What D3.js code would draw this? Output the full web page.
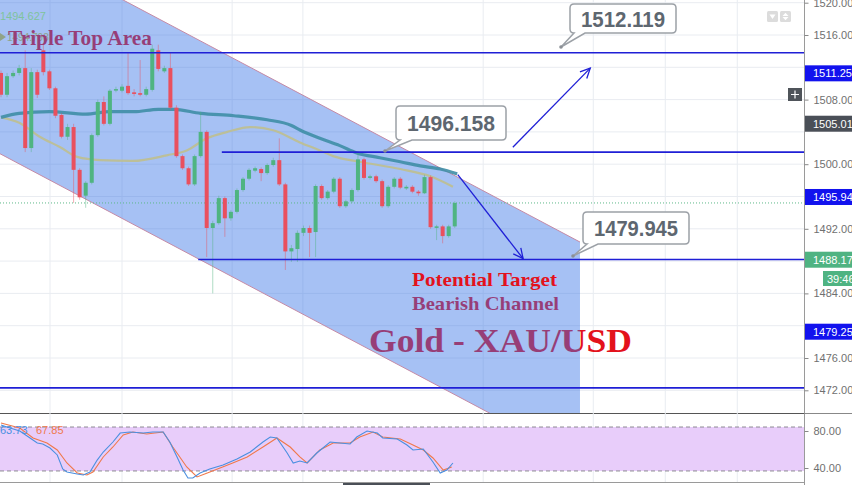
<!DOCTYPE html>
<html><head><meta charset="utf-8">
<script src="https://cdn.jsdelivr.net/npm/d3@7"></script>
<style>body{margin:0;background:#fff;overflow:hidden}svg{display:block}</style>
</head><body><svg id="c" width="852" height="485"></svg>
<script>
// ---------- DATA ----------
const opens  = [1511.3,1508.6,1510.9,1511.3,1511.9,1502.0,1511.4,1514.1,1511.5,1509.4,1506.1,1503.4,1504.6,1499.3,1496.1,1497.7,1503.6,1507.7,1505.0,1509.2,1509.1,1509.7,1508.9,1508.8,1508.6,1509.2,1514.1,1511.5,1511.9,1507.0,1501.0,1499.5,1497.5,1501.0,1504.0,1492.1,1492.7,1495.8,1493.3,1494.1,1496.8,1498.2,1499.2,1499.4,1498.9,1499.9,1500.5,1497.5,1489.2,1489.5,1491.5,1492.1,1491.6,1497.3,1495.8,1496.6,1498.2,1494.8,1495.4,1496.8,1500.6,1498.3,1498.5,1497.9,1494.8,1497.2,1498.2,1497.0,1497.2,1496.6,1496.4,1498.4,1492.2,1492.3,1491.1,1492.3];
const highs  = [1511.6,1511.3,1511.6,1512.3,1514.1,1511.9,1511.7,1514.8,1511.7,1509.6,1506.3,1505.0,1505.0,1499.5,1497.9,1503.8,1508.0,1508.4,1509.3,1509.6,1509.9,1513.8,1509.3,1512.9,1509.6,1514.8,1514.8,1512.2,1513.8,1507.3,1501.2,1499.7,1501.2,1506.5,1504.2,1493.0,1496.1,1496.0,1494.3,1497.0,1498.4,1499.5,1499.7,1499.6,1500.1,1500.8,1503.2,1497.7,1490.0,1491.8,1492.4,1492.4,1497.5,1497.5,1496.8,1498.4,1498.4,1495.6,1497.0,1501.5,1500.8,1498.7,1498.7,1498.1,1497.4,1498.4,1498.4,1497.4,1497.4,1496.8,1498.7,1498.6,1492.5,1492.5,1492.5,1495.4];
const lows   = [1508.3,1508.3,1510.7,1511.0,1501.5,1501.5,1508.2,1511.0,1509.2,1505.7,1503.2,1503.0,1495.2,1495.6,1494.6,1497.5,1503.4,1504.8,1504.8,1508.9,1508.9,1508.6,1508.4,1508.4,1508.4,1509.0,1511.5,1511.3,1506.7,1500.8,1499.3,1497.3,1497.3,1500.8,1488.5,1484.0,1492.5,1491.0,1493.0,1493.9,1496.6,1498.0,1499.0,1497.9,1498.7,1499.7,1497.3,1486.9,1487.9,1487.9,1491.1,1488.5,1488.5,1495.6,1495.6,1496.4,1494.6,1494.6,1495.2,1496.6,1498.1,1498.1,1497.7,1494.6,1494.6,1497.0,1496.9,1496.8,1496.4,1496.1,1496.3,1492.0,1490.6,1490.2,1490.9,1492.1];
const closes = [1508.6,1510.9,1511.3,1511.9,1502.0,1511.4,1508.6,1511.4,1509.4,1506.0,1503.4,1504.6,1499.3,1495.9,1497.7,1503.6,1507.7,1505.0,1509.1,1509.3,1509.6,1508.8,1508.7,1508.6,1509.3,1514.3,1511.8,1511.9,1507.0,1501.0,1499.5,1497.5,1501.0,1504.0,1492.1,1492.7,1495.8,1493.3,1494.1,1496.8,1498.2,1499.3,1499.5,1498.9,1499.9,1500.5,1497.5,1489.2,1489.6,1491.5,1492.1,1491.5,1497.3,1495.8,1496.6,1498.2,1494.8,1495.4,1496.8,1500.6,1498.3,1498.5,1497.9,1494.8,1497.2,1498.2,1497.1,1497.2,1496.6,1496.4,1498.4,1492.2,1492.3,1491.1,1492.3,1495.2];

const maSlowIdx = [0,3,8,14,18,22,26,28.5,33,38.5,44,48,49.5,52.7,56,58.8,62.6,66,69.3,72.6,75.4];
const maSlowVal = [1505.8,1506.3,1506.5,1506.2,1506.5,1506.5,1506.8,1506.8,1506.3,1506.0,1505.5,1504.8,1504.2,1503.2,1502.3,1501.4,1500.8,1500.3,1499.8,1499.4,1498.8];
const maFastIdx = [0,3.1,6.4,9.8,12.6,16.4,21.8,27.4,30.7,34,37.4,41.2,45,49.4,52.7,54.9,59.3,66,71,74.7];
const maFastVal = [1505.8,1505.1,1503.4,1502.1,1500.9,1500.5,1500.4,1501.1,1501.7,1503.2,1504.0,1504.6,1504.2,1502.7,1501.7,1501.0,1500.3,1499.4,1498.5,1497.2];

const stochKIdx = [0,1.5,3.1,4.8,6,6.9,8.1,9.3,10.2,10.9,12.6,13.6,14.7,15.9,16.9,18.5,19.7,21.3,23.5,25.1,26.8,27.9,29.1,30.1,30.9,31.7,32.9,34.5,36.7,39,41.2,43.3,44.5,45.6,47.3,48.3,49.4,50.6,52.2,54.4,56,57.7,58.8,60.5,62.2,63.1,65.5,67.1,68.1,69.8,71.4,72.6,73.7,74.7];
const stochKVal = [86.5,83.2,80,72.4,67.0,65.9,61.6,54.1,38.9,35.7,33.5,32.4,35.7,48.6,57.3,68.1,77.8,78.9,77.8,78.9,78.9,68.1,51.9,37.8,29.2,29.2,34.6,38.9,43.2,49.7,57.3,68.1,73.5,72.4,56.2,45.4,47.5,45.4,56.2,68.1,67.0,65.9,73.5,80,77.8,72.4,71.4,64.9,59.5,60.5,46.5,34.6,37.8,45.4];
const stochDIdx = [0,3.1,5.3,7.6,9.3,10.9,12.6,14.2,15.2,16.9,18.5,20.2,21.8,24.1,26.8,28.4,30.7,32.4,34.1,36.2,38.3,40.7,43.3,45.6,47.8,49.4,50.6,52.7,54.9,57.7,59.3,61.5,63.1,66,68.1,69.8,71.4,73.1,74.5];
const stochDVal = [88.6,83.2,72.4,67.0,59.5,45.4,34.6,32.4,35.7,51.9,62.7,75.7,78.9,76.8,78.9,62.7,41.1,30.3,34.6,40.0,45.4,51.9,62.7,72.4,62.7,52.0,45.4,59.5,67.0,67.0,73.5,78.9,73.5,71.4,64.9,59.5,50.8,37.8,41.1];

const priceTicks = [1520,1516,1512,1508,1504,1500,1496,1492,1488,1484,1480,1476,1472];
const stochTicks = [80,40];
const stochBand = [84.3,36.8];
const levelVals = [1513.8,1501.5,1488.2,1472.3];
const levelStart = [-5,36.5,32.6,-5];
const axisLabelVals = [1511.253,1505.012,1495.940,1488.172,1479.256];
const axisLabelText = ["1511.253","1505.012","1495.940","1488.172","1479.256"];
const timeGridIdx = [8.1,20,38.2,49.9,79.7,97.9,109.8,121.7];
const calloutText = ["1512.119","1496.158","1479.945"];
const lastPrice = 1495.2;

// ---------- SCALES ----------
const svg = d3.select("#c");
const W = 852, H = 485, paneR = 804, mainB = 413;
const x = d3.scaleLinear().domain([0,100]).range([1,606]);
const y = d3.scaleLinear().domain([1472,1520]).range([390.3,2.7]);
const ys = d3.scaleLinear().domain([40,80]).range([468,431]);
const sans = "'Liberation Sans',Arial,sans-serif";
const serif = "'Liberation Serif','Times New Roman',serif";

svg.append("rect").attr("width",W).attr("height",H).attr("fill","#fff");
const defs = svg.append("defs");
defs.append("clipPath").attr("id","mainClip").append("rect").attr("x",0).attr("y",0).attr("width",paneR).attr("height",mainB);
defs.append("clipPath").attr("id","stClip").append("rect").attr("x",0).attr("y",mainB).attr("width",paneR).attr("height",70);

const main = svg.append("g").attr("clip-path","url(#mainClip)");

// grid
main.selectAll(".hg").data(priceTicks).join("line")
  .attr("x1",0).attr("x2",paneR).attr("y1",d=>y(d)).attr("y2",d=>y(d))
  .attr("stroke","#e9ecf1").attr("stroke-width",1);
main.selectAll(".vg").data(timeGridIdx).join("line")
  .attr("x1",d=>x(d)).attr("x2",d=>x(d)).attr("y1",0).attr("y2",mainB)
  .attr("stroke","#e9ecf1").attr("stroke-width",1);

// small legend value partially hidden behind the title
main.append("path").attr("d","M0,33 L6,37 L0,41 Z").attr("fill","#d8c93a");
main.append("text").attr("x",7).attr("y",41).text("1494.798").attr("font-family",sans)
  .attr("font-size",10).attr("fill","#d8c93a");

// texts beneath channel (red, tinted by channel)
main.append("text").attr("x",8).attr("y",45).text("Triple Top Area")
  .attr("font-family",serif).attr("font-weight","bold").attr("font-size",22)
  .attr("textLength",144).attr("lengthAdjust","spacingAndGlyphs").attr("fill","#e3121c");
main.append("text").attr("x",412).attr("y",310).text("Bearish Channel")
  .attr("font-family",serif).attr("font-weight","bold").attr("font-size",19)
  .attr("textLength",147).attr("lengthAdjust","spacingAndGlyphs").attr("fill","#e3121c");
main.append("text").attr("x",369).attr("y",352).text("Gold - XAU/USD")
  .attr("font-family",serif).attr("font-weight","bold").attr("font-size",34)
  .attr("textLength",263).attr("lengthAdjust","spacingAndGlyphs").attr("fill","#e3121c");

// channel
const chSlope = (1490.36-1520.33)/(95.7-20.2);
const upAt = i => 1520.33 + chSlope*(i-20.2);
const loAt = i => 1501.3 + chSlope*(i+0.17);
const iL = -12, iR = 95.7;
const chPts = [[iL,upAt(iL)],[iR,upAt(iR)],[iR,loAt(iR)],[iL,loAt(iL)]];
main.append("path")
  .attr("d", d3.line().x(d=>x(d[0])).y(d=>y(d[1]))(chPts)+"Z")
  .attr("fill","rgba(58,118,230,0.45)");
main.append("line").attr("x1",x(iL)).attr("y1",y(upAt(iL))).attr("x2",x(iR)).attr("y2",y(upAt(iR)))
  .attr("stroke","#c48aa6").attr("stroke-width",1);
main.append("line").attr("x1",x(iL)).attr("y1",y(loAt(iL))).attr("x2",x(iR)).attr("y2",y(loAt(iR)))
  .attr("stroke","#c48aa6").attr("stroke-width",1);

// current price dotted line
main.append("line").attr("x1",0).attr("x2",paneR).attr("y1",y(lastPrice)).attr("y2",y(lastPrice))
  .attr("stroke","#5cb889").attr("stroke-width",1).attr("stroke-dasharray","1,2");

// moving averages
const lineGen = d3.line().x(d=>x(d[0])).y(d=>y(d[1])).curve(d3.curveMonotoneX);
main.append("path").attr("d",lineGen(maFastIdx.map((d,i)=>[d,maFastVal[i]])))
  .attr("fill","none").attr("stroke","#bdbf93").attr("stroke-width",2.2).attr("opacity",0.95);
main.append("path").attr("d",lineGen(maSlowIdx.map((d,i)=>[d,maSlowVal[i]])))
  .attr("fill","none").attr("stroke","#3f8ea6").attr("stroke-width",3.2).attr("opacity",0.9);

// candles
const RED="#e9505e", GREEN="#4fb481";
const candles = opens.map((o,i)=>({i,o,h:highs[i],l:lows[i],c:closes[i]}));
const cg = main.append("g");
cg.selectAll(".wick").data(candles).join("line")
  .attr("x1",d=>x(d.i)).attr("x2",d=>x(d.i)).attr("y1",d=>y(d.h)).attr("y2",d=>y(d.l))
  .attr("stroke",d=>d.c>=d.o?GREEN:RED).attr("stroke-width",1).attr("opacity",0.45);
cg.selectAll(".body").data(candles).join("rect")
  .attr("x",d=>x(d.i)-2).attr("width",4)
  .attr("y",d=>y(Math.max(d.o,d.c)))
  .attr("height",d=>Math.max(1.5,Math.abs(y(d.o)-y(d.c))))
  .attr("fill",d=>d.c>=d.o?GREEN:RED);

// levels
const LEVEL="#1f1fd6";
main.selectAll(".lvl").data(levelVals).join("line")
  .attr("x1",(d,i)=>x(levelStart[i])).attr("x2",paneR)
  .attr("y1",d=>y(d)).attr("y2",d=>y(d))
  .attr("stroke",LEVEL).attr("stroke-width",1.6);

// arrows
function arrow(i1,p1,i2,p2){
  const x1=x(i1),y1=y(p1),x2=x(i2),y2=y(p2);
  const a=Math.atan2(y2-y1,x2-x1), L=11, s=0.45;
  main.append("line").attr("x1",x1).attr("y1",y1).attr("x2",x2).attr("y2",y2)
    .attr("stroke",LEVEL).attr("stroke-width",1.3);
  main.append("path").attr("d",`M${x2-L*Math.cos(a-s)},${y2-L*Math.sin(a-s)} L${x2},${y2} L${x2-L*Math.cos(a+s)},${y2-L*Math.sin(a+s)}`)
    .attr("fill","none").attr("stroke",LEVEL).attr("stroke-width",1.3);
}
arrow(84.6,1502.1,97.4,1511.9);
arrow(75.5,1498.7,86.3,1488.3);

// Potential Target text (above channel)
main.append("text").attr("x",412).attr("y",286).text("Potential Target")
  .attr("font-family",serif).attr("font-weight","bold").attr("font-size",19)
  .attr("textLength",145).attr("lengthAdjust","spacingAndGlyphs").attr("fill","#e3121c");

// callouts
function callout(txt,x0,y0,w,h,t1,t2,px,py){
  const r=4;
  const d=`M${x0+r},${y0} H${x0+w-r} Q${x0+w},${y0} ${x0+w},${y0+r} V${y0+h-r} Q${x0+w},${y0+h} ${x0+w-r},${y0+h} H${t2} L${px},${py} L${t1},${y0+h} H${x0+r} Q${x0},${y0+h} ${x0},${y0+h-r} V${y0+r} Q${x0},${y0} ${x0+r},${y0} Z`;
  main.append("path").attr("d",d).attr("fill","#fff").attr("stroke","#9ca1a7").attr("stroke-width",1.5);
  main.append("circle").attr("cx",px).attr("cy",py).attr("r",1.8).attr("fill","#8b9096");
  main.append("text").attr("x",x0+w/2).attr("y",y0+h/2+8).attr("text-anchor","middle").text(txt)
    .attr("font-family",sans).attr("font-weight","bold").attr("font-size",22)
    .attr("textLength",w-22).attr("lengthAdjust","spacingAndGlyphs").attr("fill","#5e6770");
}
callout(calloutText[0],570,4,106,29,574,585,561,47);
callout(calloutText[1],396,106,110,34,400,412,385,151);
callout(calloutText[2],583,212,106,32,587,598,573,256);

// top-left legend value
svg.append("text").attr("x",0).attr("y",20).text("1494.627").attr("font-family",sans)
  .attr("font-size",11).attr("fill","#7fc39c");

// top-right icons
svg.append("rect").attr("x",767).attr("y",11).attr("width",11).attr("height",11).attr("rx",1.5).attr("fill","#dcdcdc");
svg.append("path").attr("d","M769.5,14.5 L775.5,14.5 L772.5,19 Z").attr("fill","#fff");
svg.append("rect").attr("x",780).attr("y",11).attr("width",11).attr("height",11).attr("rx",1.5).attr("fill","#dcdcdc");
svg.append("path").attr("d","M782.5,16 L785.5,12.8 L788.5,16 Z M782.5,17 L785.5,20.2 L788.5,17 Z").attr("fill","#fff");
svg.append("rect").attr("x",788).attr("y",88).attr("width",14).attr("height",13).attr("fill","#4f545a");
svg.append("path").attr("d","M795,90.5 V98.5 M791,94.5 H799").attr("stroke","#fff").attr("stroke-width",1.2);

// ---------- RIGHT AXIS ----------
const axG = svg.append("g");
axG.append("rect").attr("x",paneR).attr("y",0).attr("width",W-paneR).attr("height",H).attr("fill","#fff");
axG.append("line").attr("x1",paneR+0.5).attr("x2",paneR+0.5).attr("y1",0).attr("y2",H).attr("stroke","#9a9a9a");
const shownTicks = priceTicks.filter(t => axisLabelVals.every(v => Math.abs(y(v)-y(t)) > 12));
const yAxis = d3.axisRight(y).tickValues(shownTicks).tickSize(4).tickFormat(d3.format(".3f"));
const ya = axG.append("g").attr("transform",`translate(${paneR+0.5},0)`).call(yAxis);
ya.select(".domain").remove();
ya.selectAll("line").attr("stroke","#888");
ya.selectAll("text").attr("x",9).attr("font-family",sans).attr("font-size",11).attr("fill","#707070");
const labColors = ["#1212ee","#4a4f57","#1212ee","#4fb382","#1212ee"];
axisLabelVals.forEach((v,i)=>{
  const yy=y(v);
  axG.append("rect").attr("x",paneR+1).attr("y",yy-8).attr("width",W-paneR).attr("height",16).attr("fill",labColors[i]);
  axG.append("text").attr("x",paneR+9).attr("y",yy+4).text(axisLabelText[i]).attr("font-family",sans)
    .attr("font-size",11).attr("fill","#fff");
});
axG.append("rect").attr("x",823).attr("y",271).attr("width",W-823).attr("height",15).attr("fill","#4fb382");
axG.append("text").attr("x",827).attr("y",283).text("39:46").attr("font-family",sans)
  .attr("font-size",11).attr("fill","#fff");

// ---------- STOCH PANE ----------
svg.append("line").attr("x1",0).attr("x2",paneR).attr("y1",mainB+0.5).attr("y2",mainB+0.5).attr("stroke","#555").attr("stroke-width",1);
const st = svg.append("g").attr("clip-path","url(#stClip)");
st.selectAll(".svg").data(timeGridIdx).join("line")
  .attr("x1",d=>x(d)).attr("x2",d=>x(d)).attr("y1",mainB).attr("y2",482)
  .attr("stroke","#e9ecf1");
st.append("rect").attr("x",0).attr("y",ys(stochBand[0])).attr("width",paneR)
  .attr("height",ys(stochBand[1])-ys(stochBand[0])).attr("fill","#e8cdfa");
st.selectAll(".band").data(stochBand).join("line")
  .attr("x1",0).attr("x2",paneR).attr("y1",d=>ys(d)).attr("y2",d=>ys(d))
  .attr("stroke","#8d8a93").attr("stroke-width",1).attr("stroke-dasharray","4,3");
const sLine = d3.line().x(d=>x(d[0])).y(d=>ys(d[1])).curve(d3.curveLinear);
st.append("path").attr("d",sLine(stochDIdx.map((d,i)=>[d,stochDVal[i]])))
  .attr("fill","none").attr("stroke","#f0784a").attr("stroke-width",1.1);
st.append("path").attr("d",sLine(stochKIdx.map((d,i)=>[d,stochKVal[i]])))
  .attr("fill","none").attr("stroke","#4a8fe0").attr("stroke-width",1.1);
svg.append("text").attr("x",0).attr("y",434).text("63.73").attr("font-family",sans)
  .attr("font-size",11).attr("fill","#4a8fe0");
svg.append("text").attr("x",36).attr("y",434).text("67.85").attr("font-family",sans)
  .attr("font-size",11).attr("fill","#f0784a");
const sAxis = d3.axisRight(ys).tickValues(stochTicks).tickSize(4).tickFormat(d3.format(".2f"));
const sa = svg.append("g").attr("transform",`translate(${paneR+0.5},0)`).call(sAxis);
sa.select(".domain").remove();
sa.selectAll("line").attr("stroke","#888");
sa.selectAll("text").attr("x",9).attr("font-family",sans).attr("font-size",11).attr("fill","#707070");
svg.append("line").attr("x1",paneR).attr("x2",W).attr("y1",mainB+0.5).attr("y2",mainB+0.5).attr("stroke","#888");

// time axis strip
svg.append("line").attr("x1",0).attr("x2",paneR).attr("y1",482.5).attr("y2",482.5).attr("stroke","#9a9a9a");
svg.append("rect").attr("x",343).attr("y",483).attr("width",87).attr("height",2).attr("fill","#4a4f57");
</script></body></html>
